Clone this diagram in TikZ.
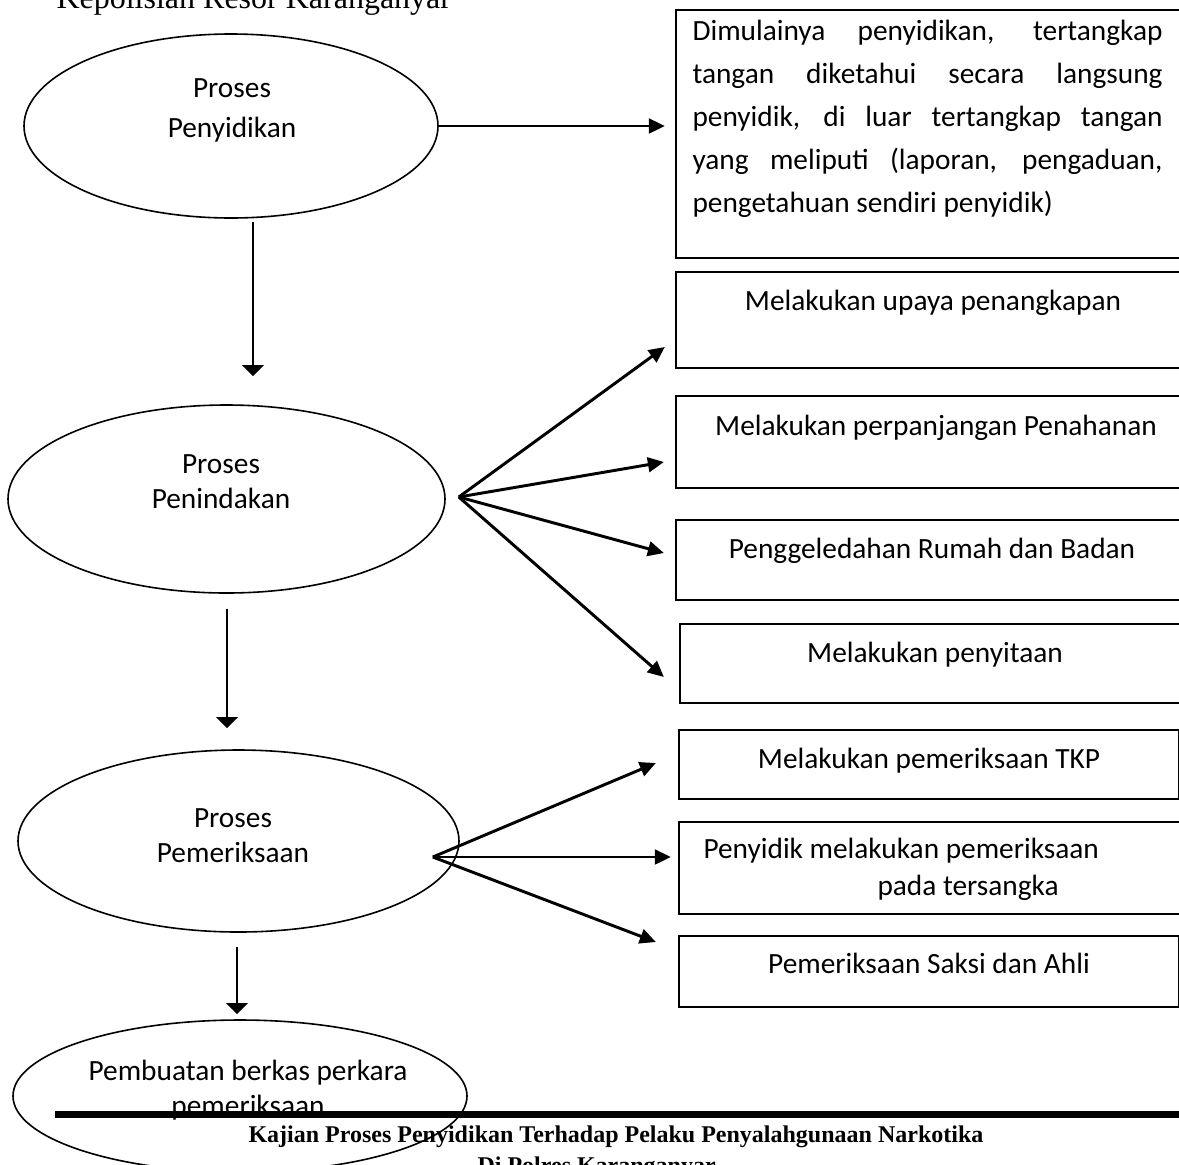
\documentclass[tikz,border=0pt]{standalone}
\usepackage{fontspec}
\setmainfont{Carlito}
\newfontfamily\timesfont{Liberation Serif}
\usetikzlibrary{shapes.geometric, arrows.meta, positioning, calc}

\begin{document}
\begin{tikzpicture}[x=0.375pt, y=-0.375pt,
  proses/.style={ellipse, draw, line width=0.6pt, inner sep=0pt},
  kotak/.style={rectangle, draw, line width=0.85pt, inner sep=0pt,
                font=\fontsize{11}{16}\selectfont},
  isi/.style={align=center, inner sep=0pt, font=\fontsize{11}{#1}\selectfont},
  arr/.style={-{Triangle[length=6pt, width=5.5pt]}, line width=1.1pt},
  turun/.style={-{Triangle[length=4.2pt, width=8pt]}, line width=1.1pt}
]
\useasboundingbox (0,0) rectangle (1179,1164);
\clip (0,0) rectangle (1179,1164);

%% ---- Page header ----
\node[anchor=base west, inner sep=0pt, font=\timesfont\fontsize{12}{14}\selectfont]
  (kepala) at (56, 8) {Kepolisian Resor Karanganyar};

%% ---- Left column: process ellipses ----
\node[proses, minimum width=155.25pt,  minimum height=69pt]   (penyidikan)  at (231, 126) {};
\node[proses, minimum width=163.875pt, minimum height=70.5pt] (penindakan)  at (226.5, 499) {};
\node[proses, minimum width=165.375pt, minimum height=68.25pt] (pemeriksaan) at (238.5, 841) {};
\node[proses, minimum width=170.25pt,  minimum height=57pt]   (berkas)      at (240, 1096) {};

\node[isi=15,     anchor=north] (tpenyidikan)  at (232, 78)   {Proses\\Penyidikan};
\node[isi=13.125, anchor=north] (tpenindakan)  at (221, 454)  {Proses\\Penindakan};
\node[isi=13.125, anchor=north] (tpemeriksaan) at (233, 808)  {Proses\\Pemeriksaan};
\node[isi=13.125, anchor=north] (tberkas)      at (248, 1060) {Pembuatan berkas perkara\\pemeriksaan};

%% ---- Right column: activity boxes ----
\node[kotak, minimum width=190.875pt, minimum height=93pt] (mulai) at (930.5, 134) {};
\node[anchor=north west, inner sep=0pt, text width=176.25pt, align=justify,
      font=\fontsize{11}{16.125}\selectfont] (tmulai) at (692, 20)
  {Dimulainya penyidikan, tertangkap\linebreak tangan diketahui secara langsung\linebreak
   penyidik, di luar tertangkap tangan\linebreak yang meliputi (laporan, pengaduan,\linebreak
   pengetahuan sendiri penyidik)};

\node[kotak, anchor=base, minimum width=192.75pt, text height=14.25pt,  text depth=21.75pt]  (tangkap) at (933, 310) {Melakukan upaya penangkapan};
\node[kotak, anchor=base, minimum width=195pt,    text height=14.625pt, text depth=19.875pt] (tahan)   at (936, 435) {Melakukan perpanjangan Penahanan};
\node[kotak, anchor=base, minimum width=192pt,    text height=14.25pt,  text depth=15.75pt]  (geledah) at (932, 558) {Penggeledahan Rumah dan Badan};
\node[kotak, anchor=base, minimum width=191.25pt, text height=14.25pt,  text depth=15.375pt] (sita)    at (935, 662) {Melakukan penyitaan};

\node[kotak, anchor=base, minimum width=187.5pt,  text height=14.25pt,  text depth=11.625pt] (tkp)     at (929, 768) {Melakukan pemeriksaan TKP};
\node[kotak, minimum width=189.75pt, minimum height=34.5pt] (tersangka) at (932, 868) {};
\node[anchor=north west, inner sep=0pt, align=left, font=\fontsize{11}{13.875}\selectfont]
  (ttersangka) at (703, 838) {Penyidik melakukan pemeriksaan\\\hspace*{65.25pt}pada tersangka};
\node[kotak, anchor=base, minimum width=187.5pt,  text height=13.875pt, text depth=12.75pt]  (saksi)   at (929, 973) {Pemeriksaan Saksi dan Ahli};

%% ---- Main path arrows ----
\draw[arr, shorten >=3.75pt] (penyidikan.east) -- (penyidikan.east -| mulai.west);
\draw[turun] ($(penyidikan.south)+(22,3)$)    -- ($(penindakan.north)+(26.5,-28)$);
\draw[turun] ($(penindakan.south)+(0.5,15)$)  -- ($(pemeriksaan.north)+(-11.5,-21)$);
\draw[turun] ($(pemeriksaan.south)+(-1.5,14)$) -- ($(berkas.north)+(-3,-5)$);

%% ---- Penindakan fan ----
\coordinate (kipasA) at ($(penindakan.east)+(13,-2)$);
\draw[arr] (kipasA) -- ($(tangkap.west)+(-10,27)$);
\draw[arr] (kipasA) -- ($(tahan.west)+(-11,20)$);
\draw[arr] (kipasA) -- ($(geledah.west)+(-11,-7)$);
\draw[arr] (kipasA) -- ($(sita.west)+(-15,13.5)$);

%% ---- Pemeriksaan fan ----
\coordinate (kipasB) at ($(pemeriksaan.east)+(-27,16)$);
\draw[arr] (kipasB) -- ($(tkp.west)+(-22,-1.5)$);
\draw[arr] (kipasB) -- ($(tersangka.west)+(-7,-11)$);
\draw[arr] (kipasB) -- ($(saksi.west)+(-22,-29.5)$);

%% ---- Page footer ----
\fill (55, 1111) rectangle (1179, 1118);
\node[anchor=base west, inner sep=0pt, font=\timesfont\bfseries\fontsize{9}{11}\selectfont]
  (kaki) at (248, 1142) {Kajian Proses Penyidikan Terhadap Pelaku Penyalahgunaan Narkotika};
\node[anchor=base west, inner sep=0pt, font=\timesfont\bfseries\fontsize{9}{11}\selectfont]
  (kakib) at (477, 1173) {Di Polres Karanganyar};

\end{tikzpicture}
\end{document}
